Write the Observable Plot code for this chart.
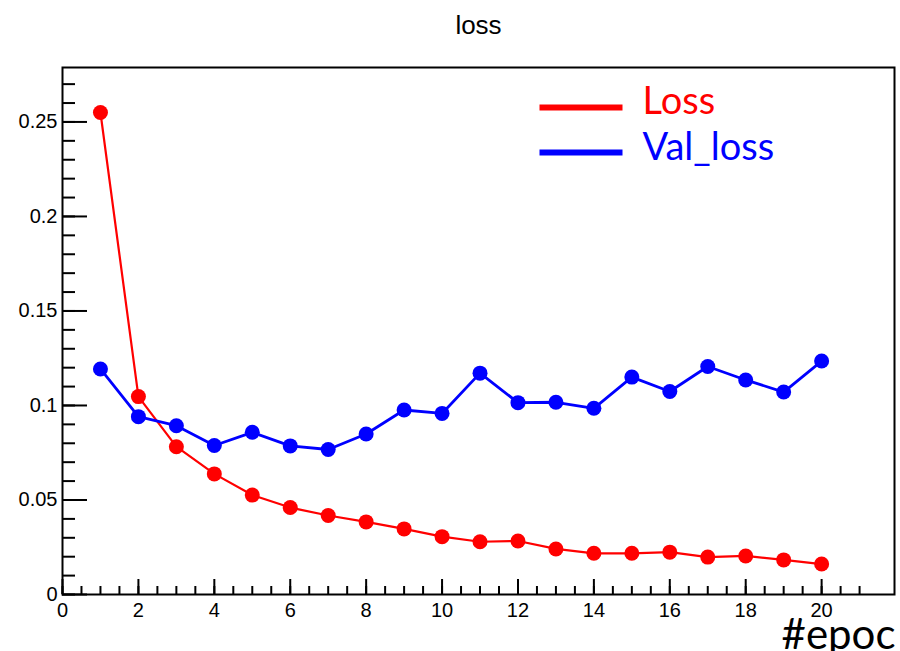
<!DOCTYPE html>
<html><head><meta charset="utf-8">
<script src="https://cdn.jsdelivr.net/npm/d3@7"></script>
<script src="https://cdn.jsdelivr.net/npm/@observablehq/plot@0.6"></script>
<style>html,body{margin:0;padding:0;background:#fff;} svg{display:block}</style>
</head><body><div id="chart"></div>
<script>
const epochs = [1,2,3,4,5,6,7,8,9,10,11,12,13,14,15,16,17,18,19,20];
const loss = [0.255,0.1047,0.0782,0.0638,0.0526,0.0460,0.0418,0.0384,0.0347,0.0306,0.0279,0.0283,0.0241,0.0218,0.0218,0.0224,0.0198,0.0204,0.0183,0.0161];
const valLoss = [0.1193,0.0941,0.0893,0.0788,0.0858,0.0786,0.0767,0.0849,0.0976,0.0958,0.1171,0.1015,0.1017,0.0985,0.1150,0.1074,0.1206,0.1135,0.1071,0.1235];
const seriesNames = ["Loss","Val_loss"];
const seriesColors = ["#ff0000","#0000ff"];
const titleText = ["loss"];
const xAxisTitle = ["#epoc"];
const xTickLabels = [0,2,4,6,8,10,12,14,16,18,20];
const yTickLabels = [0,0.05,0.1,0.15,0.2,0.25];
const xMinorTicks = d3.range(0, 43).map(i => i * 0.5);
const yMinorTicks = d3.range(0, 28).map(i => +(i * 0.01).toFixed(2));

const W = 900, H = 651;
const M = {top: 67, right: 6, bottom: 57, left: 62};
const PW = W - M.left - M.right, PH = H - M.top - M.bottom;

const lossRows = epochs.map((e, i) => ({epoch: e, value: loss[i]}));
const valRows = epochs.map((e, i) => ({epoch: e, value: valLoss[i]}));

const legendFont = "Lato, 'Open Sans', sans-serif";

const chart = Plot.plot({
  width: W, height: H,
  marginTop: M.top, marginRight: M.right, marginBottom: M.bottom, marginLeft: M.left,
  style: {fontFamily: "'Liberation Sans', Arial, sans-serif", fontSize: "20px", color: "#000", background: "#fff"},
  x: {domain: [0, 21.92], ticks: xTickLabels, tickSize: 0, tickPadding: 8, label: null, tickFormat: d => String(d)},
  y: {domain: [0, 0.2788], ticks: yTickLabels, tickSize: 0, tickPadding: 5, label: null, tickFormat: d => String(+(+d).toFixed(2))},
  marks: [
    // minor & major ticks (inside frame, ROOT style)
    Plot.tickY(yMinorTicks, {y: d => d, insetRight: PW - 13, stroke: "#000", strokeWidth: 2}),
    Plot.tickY(yTickLabels, {y: d => d, insetRight: PW - 25, stroke: "#000", strokeWidth: 2}),
    Plot.tickX(xMinorTicks, {x: d => d, insetTop: PH - 8, stroke: "#000", strokeWidth: 2}),
    Plot.tickX(xTickLabels, {x: d => d, insetTop: PH - 15, stroke: "#000", strokeWidth: 2}),
    Plot.frame({stroke: "#000", strokeWidth: 2}),
    // data
    Plot.line(lossRows, {x: "epoch", y: "value", stroke: seriesColors[0], strokeWidth: 2.2}),
    Plot.line(valRows, {x: "epoch", y: "value", stroke: seriesColors[1], strokeWidth: 2.8}),
    Plot.dot(lossRows, {x: "epoch", y: "value", fill: seriesColors[0], r: 7.5}),
    Plot.dot(valRows, {x: "epoch", y: "value", fill: seriesColors[1], r: 7.5}),
    // legend
    Plot.frame({fill: seriesColors[0], stroke: "none", insetLeft: 477, insetRight: 272, insetTop: 37, insetBottom: PH - 43}),
    Plot.frame({fill: seriesColors[1], stroke: "none", insetLeft: 477, insetRight: 272, insetTop: 82, insetBottom: PH - 88}),
    Plot.text([seriesNames[0]], {text: d => d, frameAnchor: "top-left", dx: 580, dy: 46, textAnchor: "start", lineAnchor: "bottom", fill: seriesColors[0], fontSize: 38, fontFamily: legendFont}),
    Plot.text([seriesNames[1]], {text: d => d, frameAnchor: "top-left", dx: 580, dy: 92, textAnchor: "start", lineAnchor: "bottom", fill: seriesColors[1], fontSize: 38, fontFamily: legendFont}),
    // title
    Plot.text(titleText, {text: d => d, frameAnchor: "top", dy: -34, lineAnchor: "bottom", fontSize: 26, fill: "#000"}),
    // x axis title
    Plot.text(xAxisTitle, {text: d => d, frameAnchor: "bottom-right", dx: 1, dy: 54, textAnchor: "end", lineAnchor: "bottom", fontSize: 42, fontFamily: legendFont, fill: "#000"})
  ]
});
document.getElementById("chart").appendChild(chart);
</script>
</body></html>
